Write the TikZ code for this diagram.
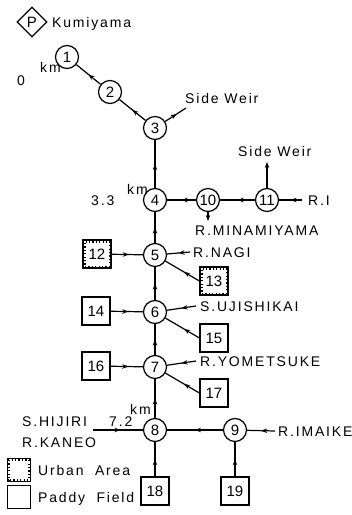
\documentclass[tikz,border=0pt]{standalone}
\usepackage{fontspec}
\setmainfont{Liberation Sans}
\newfontfamily\lbl[LetterSpace=13]{Liberation Sans}
\usetikzlibrary{arrows.meta,decorations.markings,shapes.geometric}
\tikzset{
  circ/.style={circle, draw, line width=1.25pt, minimum size=23pt, inner sep=0pt, font=\fontsize{15}{15}\selectfont},
  pbox/.style={rectangle, draw, line width=1.2pt, minimum size=28pt, inner sep=0pt, font=\fontsize{15}{15}\selectfont},
  ubox/.style={pbox, path picture={\draw[line width=5pt, dash pattern=on 1.2pt off 2.2pt] (path picture bounding box.south west) rectangle (path picture bounding box.north east);}},
  lab/.style={font=\lbl\fontsize{14}{15}\selectfont, inner sep=0pt, anchor=west, text height=10pt, text depth=0pt},
  conn/.style={line width=1.2pt},
  midarr/.style={postaction={decorate}, decoration={markings, mark=at position #1 with {\arrow{Stealth[length=6pt,width=4.5pt]}}}},
  midarr/.default=0.55,
  endarr/.style={-{Stealth[length=6pt,width=4.5pt]}}
}
\begin{document}
\begin{tikzpicture}[x=1pt,y=-1pt]
\useasboundingbox (0,0) rectangle (352,515);
% header
\node[diamond, draw, line width=1.2pt, minimum size=30pt, inner sep=0pt, font=\fontsize{15}{15}\selectfont] (P) at (32,22) {P};
\node[lab] (kum) at (52,22) {Kumiyama};
% nodes
\node[circ] (n1) at (67,57) {1};
\node[circ] (n2) at (110,92) {2};
\node[circ] (n3) at (155,128) {3};
\node[circ] (n4) at (155,200) {4};
\node[circ] (n10) at (208,200) {10};
\node[circ] (n11) at (267,200) {11};
\node[circ] (n5) at (155,255) {5};
\node[circ] (n6) at (155,312) {6};
\node[circ] (n7) at (155,367) {7};
\node[circ] (n8) at (155,430) {8};
\node[circ] (n9) at (235,430) {9};
\node[ubox] (b12) at (97,254) {12};
\node[ubox] (b13) at (214,281) {13};
\node[pbox] (b14) at (96,311) {14};
\node[pbox] (b15) at (214,338) {15};
\node[pbox] (b16) at (96,366) {16};
\node[pbox] (b17) at (214,393) {17};
\node[pbox] (b18) at (155,491) {18};
\node[pbox] (b19) at (235,491) {19};
% labels
\node[lab] (zero) at (17,80) {0};
\node[lab] (km0) at (40,67) {km};
\node[lab] (sw1) at (185,98) {Side Weir};
\node[lab] (sw2) at (238,151) {Side Weir};
\node[lab] (ri) at (308,200) {R.I};
\node[lab] (mina) at (195,230) {R.MINAMIYAMA};
\node[lab] (t33) at (91,200) {3.3};
\node[lab] (km33) at (127,189) {km};
\node[lab] (nagi) at (193,252) {R.NAGI};
\node[lab] (uji) at (200,306) {S.UJISHIKAI};
\node[lab] (yom) at (200,361) {R.YOMETSUKE};
\node[lab] (t72) at (109,421) {7.2};
\node[lab] (km72) at (130,409) {km};
\node[lab] (hij) at (22,421) {S.HIJIRI};
\node[lab] (kan) at (22,442) {R.KANEO};
\node[lab] (ima) at (278,431) {R.IMAIKE};
% connector ends
\coordinate (c3) at (186,108);
\coordinate (c11) at (267,162);
\coordinate (c10) at (208,221);
\coordinate (cri) at (302,200);
\coordinate (cna) at (190,252);
\coordinate (cuj) at (196,306);
\coordinate (cyo) at (196,361);
\coordinate (chi) at (93,430);
\coordinate (cim) at (275,431);
% connectors
\draw[conn, midarr=0.5] (n2) -- (n1);
\draw[conn, midarr=0.5] (n3) -- (n2);
\draw[conn, midarr=0.55] (n3) -- (c3);
\draw[conn, midarr=0.5] (n4) -- (n3);
\draw[conn, midarr=0.5] (n10) -- (n4);
\draw[conn, midarr=0.5] (n11) -- (n10);
\draw[conn, midarr=0.5] (cri) -- (n11);
\draw[conn, endarr] (n11) -- (c11);
\draw[conn, endarr] (n10) -- (c10);
\draw[conn, midarr=0.5] (n5) -- (n4);
\draw[conn, midarr=0.55] (b12) -- (n5);
\draw[conn, midarr=0.5] (cna) -- (n5);
\draw[conn, midarr=0.45] (b13.west) -- (n5);
\draw[conn, midarr=0.5] (n6) -- (n5);
\draw[conn, midarr=0.55] (b14) -- (n6);
\draw[conn, midarr=0.5] (cuj) -- (n6);
\draw[conn, midarr=0.45] (b15.west) -- (n6);
\draw[conn, midarr=0.5] (n7) -- (n6);
\draw[conn, midarr=0.55] (b16) -- (n7);
\draw[conn, midarr=0.5] (cyo) -- (n7);
\draw[conn, midarr=0.45] (b17.west) -- (n7);
\draw[conn, midarr=0.5] (n8) -- (n7);
\draw[conn, midarr=0.55] (chi) -- (n8);
\draw[conn, midarr=0.5] (n9) -- (n8);
\draw[conn, midarr=0.5] (cim) -- (n9);
\draw[conn, midarr=0.5] (b18) -- (n8);
\draw[conn, midarr=0.5] (b19) -- (n9);
% legend
\node[ubox, minimum size=23pt] (lu) at (19,470) {};
\node[lab] (lut) at (38,470) {Urban\ \ Area};
\node[pbox, minimum size=23pt] (lp) at (19,497) {};
\node[lab] (lpt) at (38,497) {Paddy\ \ Field};
\end{tikzpicture}
\end{document}
